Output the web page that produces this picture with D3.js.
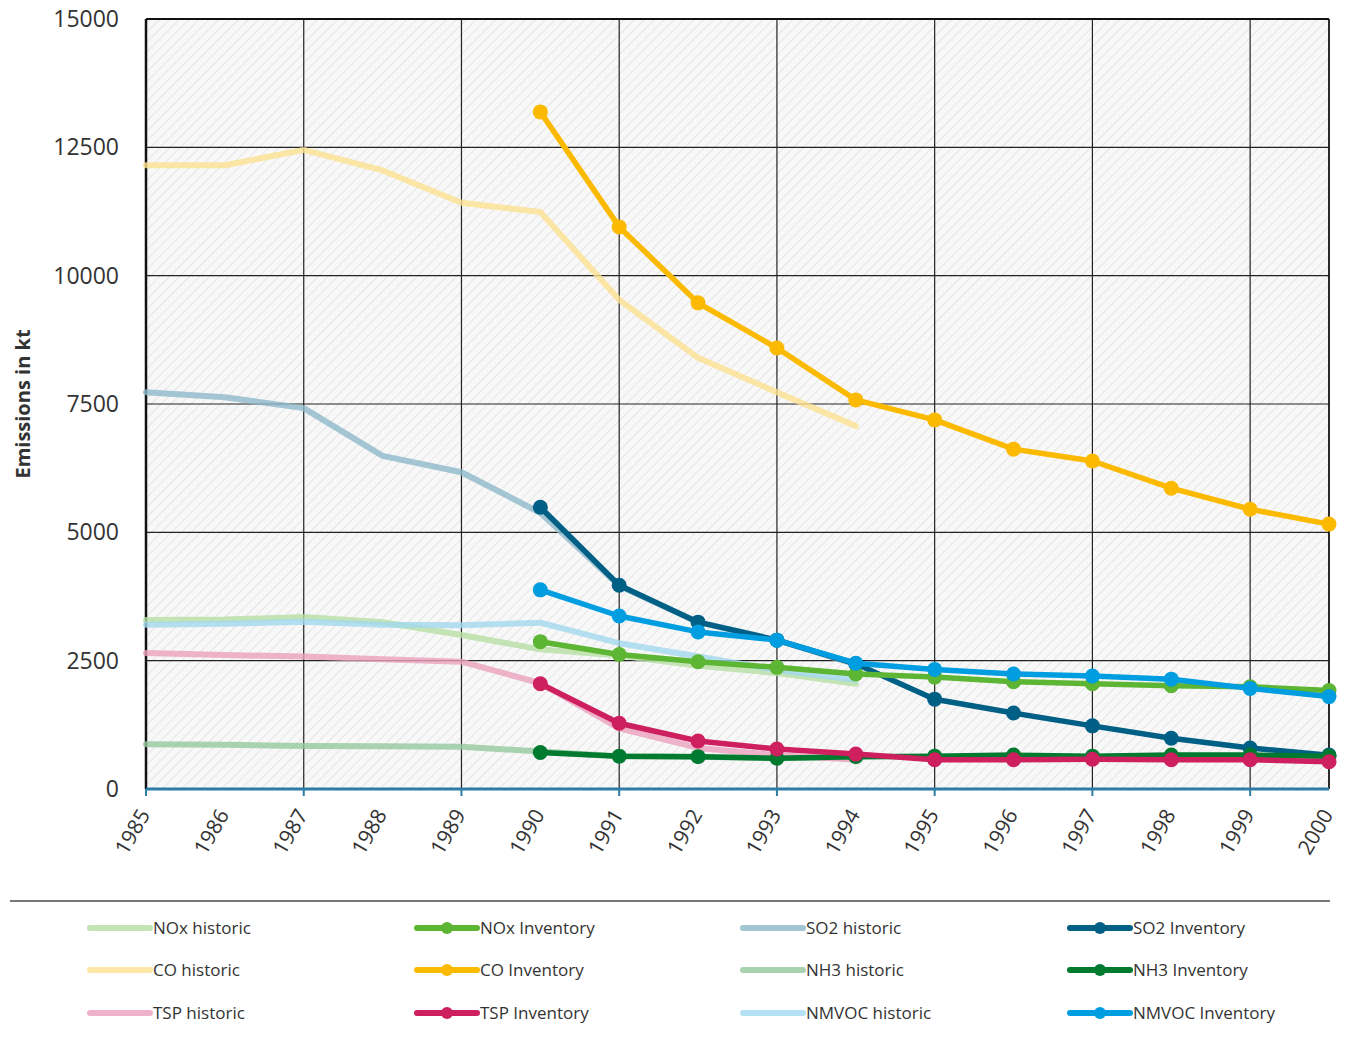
<!DOCTYPE html>
<html>
<head>
<meta charset="utf-8">
<script src="https://cdn.jsdelivr.net/npm/d3@7"></script>
<style>
  body { margin: 0; background: #fff; }
  text { font-family: "Open Sans", "Liberation Sans", Arial, sans-serif; fill: #333; }
</style>
</head>
<body>
<script>
// years on the x axis
var years = d3.range(1985, 2001);
var histYears = [1985, 1986, 1987, 1988, 1989, 1990, 1991, 1992, 1993, 1994];
var invYears = [1990, 1991, 1992, 1993, 1994, 1995, 1996, 1997, 1998, 1999, 2000];
var yTicks = [0, 2500, 5000, 7500, 10000, 12500, 15000];

// historic series (1985-1994), kt
var noxHist = [3290, 3300, 3350, 3250, 3000, 2720, 2600, 2400, 2260, 2050];
var coHist = [12150, 12150, 12450, 12050, 11420, 11240, 9530, 8400, 7730, 7070];
var so2Hist = [7730, 7630, 7420, 6490, 6170, 5380, 3960, 3250, 2900, 2430];
var nh3Hist = [870, 860, 840, 835, 825, 730, 640, 630, 600, 620];
var tspHist = [2650, 2610, 2580, 2530, 2480, 2060, 1180, 800, 660, 570];
var nmvocHist = [3200, 3220, 3260, 3200, 3190, 3240, 2840, 2580, 2320, 2130];

// inventory series (1990-2000), kt
var noxInv = [2870, 2620, 2480, 2370, 2240, 2180, 2090, 2050, 2010, 1990, 1920];
var coInv = [13190, 10950, 9470, 8590, 7580, 7190, 6620, 6390, 5860, 5450, 5160];
var so2Inv = [5490, 3970, 3250, 2900, 2440, 1750, 1480, 1230, 990, 800, 660];
var nh3Inv = [710, 640, 630, 600, 630, 640, 660, 640, 660, 660, 640];
var tspInv = [2050, 1280, 935, 780, 680, 570, 570, 580, 570, 570, 530];
var nmvocInv = [3880, 3370, 3060, 2900, 2450, 2330, 2240, 2200, 2140, 1960, 1800];

var series = [
  {name: "NOx historic", type: "hist", color: "#b7dea4", years: histYears, values: noxHist},
  {name: "CO historic", type: "hist", color: "#fde190", years: histYears, values: coHist},
  {name: "SO2 historic", type: "hist", color: "#8db8ca", years: histYears, values: so2Hist},
  {name: "NH3 historic", type: "hist", color: "#93c89d", years: histYears, values: nh3Hist},
  {name: "TSP historic", type: "hist", color: "#eba0bd", years: histYears, values: tspHist},
  {name: "NMVOC historic", type: "hist", color: "#a3d8ef", years: histYears, values: nmvocHist},
  {name: "CO Inventory", type: "inv", color: "#fbb900", years: invYears, values: coInv},
  {name: "SO2 Inventory", type: "inv", color: "#005f85", years: invYears, values: so2Inv},
  {name: "NOx Inventory", type: "inv", color: "#5db534", years: invYears, values: noxInv},
  {name: "NMVOC Inventory", type: "inv", color: "#009ee0", years: invYears, values: nmvocInv},
  {name: "NH3 Inventory", type: "inv", color: "#007a2f", years: invYears, values: nh3Inv},
  {name: "TSP Inventory", type: "inv", color: "#ce1f5e", years: invYears, values: tspInv}
];

var legendOrder = [
  ["NOx historic", "CO historic", "TSP historic"],
  ["NOx Inventory", "CO Inventory", "TSP Inventory"],
  ["SO2 historic", "NH3 historic", "NMVOC historic"],
  ["SO2 Inventory", "NH3 Inventory", "NMVOC Inventory"]
];

var W = 1352, H = 1050;
var plot = {left: 146, right: 1329, top: 19, bottom: 789};

var svg = d3.select("body").append("svg")
  .attr("width", W)
  .attr("height", H);

var x = d3.scaleLinear().domain([1985, 2000]).range([plot.left, plot.right]);
var y = d3.scaleLinear().domain([0, 15000]).range([plot.bottom, plot.top]);

// hatch background
var defs = svg.append("defs");
var pat = defs.append("pattern")
  .attr("id", "hatch")
  .attr("patternUnits", "userSpaceOnUse")
  .attr("width", 7).attr("height", 7)
  .attr("patternTransform", "rotate(45)");
pat.append("rect").attr("width", 7).attr("height", 7).attr("fill", "#f8f8f8");
pat.append("line").attr("x1", 0).attr("y1", 0).attr("x2", 0).attr("y2", 7)
  .attr("stroke", "#d8d8d8").attr("stroke-width", 1.2);

svg.append("rect")
  .attr("x", plot.left).attr("y", plot.top)
  .attr("width", plot.right - plot.left).attr("height", plot.bottom - plot.top)
  .attr("fill", "url(#hatch)");

// grid
var grid = svg.append("g");
grid.selectAll(".hg").data(yTicks.slice(1))
  .enter().append("line")
  .attr("x1", plot.left).attr("x2", plot.right)
  .attr("y1", function(d) { return y(d); })
  .attr("y2", function(d) { return y(d); })
  .attr("stroke", "#222").attr("stroke-width", 1.2);
grid.selectAll(".vg").data(years.filter(function(d) { return (d - 1985) % 2 === 0; }).concat([2000]))
  .enter().append("line")
  .attr("x1", function(d) { return x(d); })
  .attr("x2", function(d) { return x(d); })
  .attr("y1", plot.top).attr("y2", plot.bottom)
  .attr("stroke", "#222").attr("stroke-width", 1.2);

// frame top & left heavier
svg.append("line").attr("x1", plot.left).attr("x2", plot.right)
  .attr("y1", plot.top).attr("y2", plot.top).attr("stroke", "#111").attr("stroke-width", 2);
svg.append("line").attr("x1", plot.left).attr("x2", plot.left)
  .attr("y1", plot.top).attr("y2", plot.bottom).attr("stroke", "#111").attr("stroke-width", 2.5);
svg.append("line").attr("x1", plot.right).attr("x2", plot.right)
  .attr("y1", plot.top).attr("y2", plot.bottom).attr("stroke", "#111").attr("stroke-width", 1.5);

// y axis labels
var yAxis = d3.axisLeft(y).tickValues(yTicks).tickSize(0).tickPadding(27)
  .tickFormat(d3.format("d"));
var yg = svg.append("g").attr("transform", "translate(" + plot.left + ",0)").call(yAxis);
yg.select(".domain").remove();
yg.selectAll("text").style("font-size", "23px").attr("fill", "#333");

svg.append("text")
  .attr("transform", "translate(30," + ((plot.top + plot.bottom) / 2) + ") rotate(-90)")
  .attr("text-anchor", "middle")
  .style("font-size", "20px").style("font-weight", "bold")
  .attr("fill", "#222")
  .text("Emissions in kt");

// x axis
var xAxis = d3.axisBottom(x).tickValues(years).tickSize(0).tickPadding(0)
  .tickFormat(d3.format("d"));
var xg = svg.append("g").attr("transform", "translate(0," + plot.bottom + ")").call(xAxis);
xg.select(".domain").remove();
xg.selectAll("text")
  .style("font-size", "21px")
  .attr("text-anchor", "end")
  .attr("dy", "0.35em")
  .attr("transform", "translate(-2,22) rotate(-60)");

svg.append("line").attr("x1", plot.left).attr("x2", plot.right)
  .attr("y1", plot.bottom).attr("y2", plot.bottom)
  .attr("stroke", "#2b7ca6").attr("stroke-width", 3);
svg.append("g").selectAll("line")
  .data(years.filter(function(d) { return (d - 1985) % 2 === 0; }))
  .enter().append("line")
  .attr("x1", function(d) { return x(d); })
  .attr("x2", function(d) { return x(d); })
  .attr("y1", plot.bottom).attr("y2", plot.bottom + 7)
  .attr("stroke", "#2b7ca6").attr("stroke-width", 2);

// lines
var line = d3.line()
  .x(function(d) { return x(d[0]); })
  .y(function(d) { return y(d[1]); });

function pts(s) { return s.years.map(function(yr, i) { return [yr, s.values[i]]; }); }

var lines = svg.append("g");
series.forEach(function(s) {
  var g = lines.append("g");
  g.append("path")
    .attr("d", line(pts(s)))
    .attr("fill", "none")
    .attr("stroke", s.color)
    .attr("stroke-width", s.type === "hist" ? 6 : 5.5)
    .attr("stroke-linejoin", "round")
    .attr("stroke-linecap", "round")
    .attr("opacity", s.type === "hist" ? 0.8 : 1);
  if (s.type === "inv") {
    g.selectAll("circle").data(pts(s))
      .enter().append("circle")
      .attr("cx", function(d) { return x(d[0]); })
      .attr("cy", function(d) { return y(d[1]); })
      .attr("r", 7.5)
      .attr("fill", s.color);
  }
});

// separator
svg.append("line").attr("x1", 10).attr("x2", 1330)
  .attr("y1", 901).attr("y2", 901)
  .attr("stroke", "#777").attr("stroke-width", 2);

// legend
var colX = [88, 415, 741, 1068];
var rowY = [928, 970, 1013];
var byName = {};
series.forEach(function(s) { byName[s.name] = s; });

var leg = svg.append("g");
legendOrder.forEach(function(col, ci) {
  col.forEach(function(name, ri) {
    var s = byName[name];
    var g = leg.append("g").attr("transform", "translate(" + colX[ci] + "," + rowY[ri] + ")");
    g.append("line").attr("x1", 2).attr("x2", 62).attr("y1", 0).attr("y2", 0)
      .attr("stroke", s.color).attr("stroke-width", 6)
      .attr("stroke-linecap", "round")
      .attr("opacity", s.type === "hist" ? 0.8 : 1);
    if (s.type === "inv") {
      g.append("circle").attr("cx", 32).attr("cy", 0).attr("r", 6).attr("fill", s.color);
    }
    g.append("text").attr("x", 65).attr("y", 0).attr("dy", "0.35em")
      .style("font-size", "17px").attr("fill", "#333")
      .text(name);
  });
});
</script>
</body>
</html>
